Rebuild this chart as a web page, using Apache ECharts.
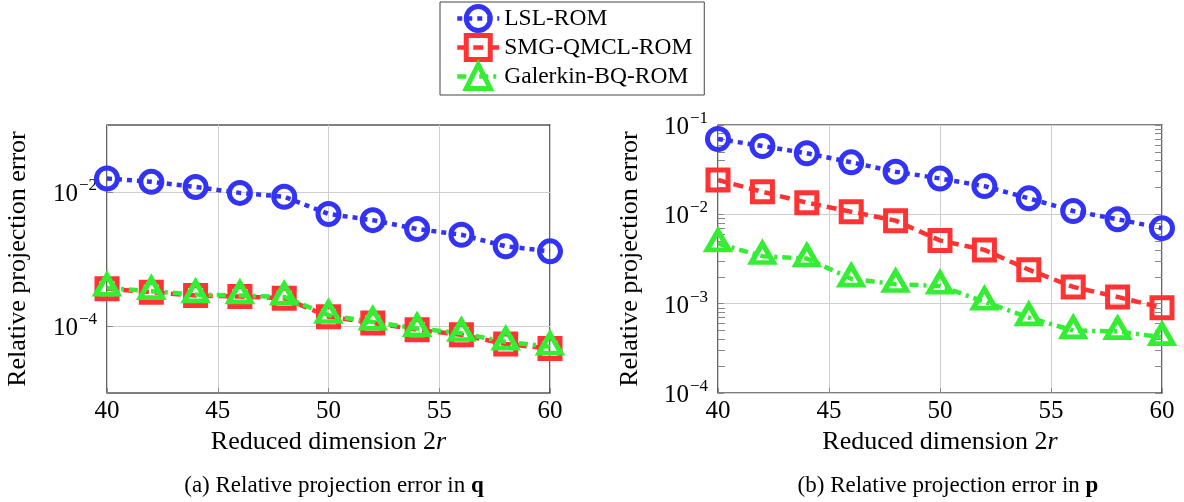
<!DOCTYPE html>
<html><head><meta charset="utf-8">
<script src="https://cdn.jsdelivr.net/npm/echarts@6/dist/echarts.min.js"></script>
<style>html,body{margin:0;padding:0;background:#fff}#c{width:1184px;height:502px}</style>
</head><body><div id="c"></div>
<script>
// ---------- data ----------
const dims = [40, 42, 44, 46, 48, 50, 52, 54, 56, 58, 60];
const seriesNames = ['LSL-ROM', 'SMG-QMCL-ROM', 'Galerkin-BQ-ROM'];
// (a) error in q
const qLSL = [0.0159, 0.0142, 0.0119, 0.0097, 0.0085, 0.0047, 0.0038, 0.0028, 0.0023, 0.00155, 0.0013];
const qSMG = [3.6e-4, 3.2e-4, 2.85e-4, 2.75e-4, 2.6e-4, 1.38e-4, 1.11e-4, 8.8e-5, 7.4e-5, 5.4e-5, 4.6e-5];
const qGal = [3.7e-4, 3.3e-4, 2.95e-4, 2.85e-4, 2.72e-4, 1.45e-4, 1.15e-4, 9.2e-5, 7.8e-5, 5.8e-5, 4.9e-5];
// (b) error in p
const pLSL = [0.0697, 0.0582, 0.0482, 0.0382, 0.030, 0.0252, 0.0207, 0.0151, 0.0109, 0.0088, 0.0070];
const pSMG = [0.0242, 0.0179, 0.0135, 0.0107, 0.0085, 0.0051, 0.0040, 0.0024, 0.00154, 0.00119, 0.0009];
const pGal = [0.0047, 0.0034, 0.0032, 0.0019, 0.00165, 0.00158, 0.00105, 0.0007, 0.0005, 0.00049, 0.00042];
// ticks
const xTicks = [40, 45, 50, 55, 60];
const yTicksQ = [1e-4, 1e-2];
const yTicksP = [1e-4, 1e-3, 1e-2, 1e-1];
const yMinorP = [];
[1e-4, 1e-3, 1e-2].forEach(d => { for (let k = 2; k <= 9; k++) yMinorP.push(+(k * d).toPrecision(3)); });
const xTitle = 'Reduced dimension 2{i|r}';
const yTitle = 'Relative projection error';
const captionA = '(a) Relative projection error in {b|q}';
const captionB = '(b) Relative projection error in {b|p}';

// ---------- style ----------
const FONT = 'Liberation Serif';
const BLUE = '#3333f6', RED = '#ff3333', GREEN = '#33ee33';

function powLabel(v) {
  const e = Math.round(Math.log10(v));
  return '{b|10}{s|\u2212' + (-e) + '}';
}
const labelRich = {
  b: { fontSize: 25, fontFamily: FONT, color: '#000', lineHeight: 30, verticalAlign: 'bottom' },
  s: { fontSize: 17, fontFamily: FONT, color: '#000', lineHeight: 30, verticalAlign: 'top', padding: [0, 0, 0, 1] }
};

function xAxisCfg(gi) {
  return {
    type: 'value', gridIndex: gi, min: 40, max: 60, interval: 5,
    name: xTitle, nameLocation: 'middle', nameGap: 34,
    nameTextStyle: { fontFamily: FONT, fontSize: 26, color: '#000', rich: { i: { fontStyle: 'italic', fontFamily: FONT, fontSize: 26 } } },
    axisLine: { show: false },
    axisTick: { show: true, inside: true, length: 5, lineStyle: { color: '#888' } },
    axisLabel: { fontFamily: FONT, fontSize: 25, color: '#000', margin: 6 },
    splitLine: { show: true, lineStyle: { color: '#cfcfcf', width: 1 } }
  };
}
function yAxisMain(gi, min, max, ticks, gap) {
  return {
    type: 'log', logBase: 10, gridIndex: gi, min: min, max: max,
    name: yTitle, nameLocation: 'middle', nameGap: gap, nameRotate: 90,
    nameTextStyle: { fontFamily: FONT, fontSize: 26, color: '#000' },
    axisLine: { show: false },
    axisTick: { show: true, inside: true, length: 6, customValues: ticks, lineStyle: { color: '#888' } },
    axisLabel: { customValues: ticks, formatter: powLabel, rich: labelRich, margin: 10 },
    splitLine: { show: true, lineStyle: { color: '#cfcfcf', width: 1 } },
    minorTick: { show: false }
  };
}
function yAxisMinor(gi, pos, min, max, ticks) {
  return {
    type: 'log', logBase: 10, gridIndex: gi, position: pos, min: min, max: max,
    axisLine: { show: false },
    axisTick: { show: true, inside: true, length: 7, customValues: ticks, lineStyle: { color: '#888' } },
    axisLabel: { show: false },
    splitLine: { show: false }
  };
}

function mk(name, vals, gi, yi, color, dash, symbol, size, bw, offset) {
  return {
    type: 'line', name: name, xAxisIndex: gi, yAxisIndex: yi,
    data: dims.map((d, i) => [d, vals[i]]),
    symbol: symbol, symbolSize: size, symbolOffset: offset || [0, 0],
    showSymbol: true, clip: false, animation: false,
    lineStyle: { color: color, width: 4.5, type: dash, cap: 'butt' },
    itemStyle: { color: 'rgba(255,255,255,0)', borderColor: color, borderWidth: bw },
    emphasis: { disabled: true }
  };
}
const dotted = [5, 5], dashed = [10, 6], dashdot = [9, 5, 3, 5];
const triSize = [22, 19], triOff = [0, -3.2];

const option = {
  animation: false,
  backgroundColor: '#fff',
  legend: {
    orient: 'vertical', left: 440, top: 2,
    data: seriesNames,
    itemWidth: 42, itemHeight: 30, itemGap: 0,
    padding: [2, 12, 4, 15],
    borderColor: '#444', borderWidth: 1,
    textStyle: { fontFamily: FONT, fontSize: 23.5, color: '#000' },
    lineStyle: { width: 4.5 },
    itemStyle: { borderWidth: 5 },
    selectedMode: false
  },
  grid: [
    { left: 107, top: 125, width: 443, height: 268, show: true, borderColor: '#000', borderWidth: 1.2, backgroundColor: 'transparent' },
    { left: 718, top: 125, width: 444, height: 268, show: true, borderColor: '#000', borderWidth: 1.2, backgroundColor: 'transparent' }
  ],
  xAxis: [xAxisCfg(0), xAxisCfg(1)],
  yAxis: [
    yAxisMain(0, 1e-5, 1e-1, yTicksQ, 76),
    yAxisMain(1, 1e-4, 1e-1, yTicksP, 75),
    yAxisMinor(1, 'left', 1e-4, 1e-1, yMinorP),
    yAxisMinor(1, 'right', 1e-4, 1e-1, yMinorP.concat(yTicksP))
  ],
  series: [
    mk(seriesNames[0], qLSL, 0, 0, BLUE, dotted, 'circle', 21, 5),
    mk(seriesNames[1], qSMG, 0, 0, RED, dashed, 'rect', 20, 5),
    mk(seriesNames[2], qGal, 0, 0, GREEN, dashdot, 'triangle', triSize, 5, triOff),
    mk(seriesNames[0], pLSL, 1, 1, BLUE, dotted, 'circle', 21, 5),
    mk(seriesNames[1], pSMG, 1, 1, RED, dashed, 'rect', 20, 5),
    mk(seriesNames[2], pGal, 1, 1, GREEN, dashdot, 'triangle', triSize, 5, triOff)
  ],
  graphic: [
    { type: 'text', x: 334, y: 486, style: { text: captionA, align: 'center', verticalAlign: 'middle', fontFamily: FONT, fontSize: 23, fill: '#000', rich: { b: { fontWeight: 'bold', fontFamily: FONT, fontSize: 23 } } } },
    { type: 'text', x: 948, y: 486, style: { text: captionB, align: 'center', verticalAlign: 'middle', fontFamily: FONT, fontSize: 23, fill: '#000', rich: { b: { fontWeight: 'bold', fontFamily: FONT, fontSize: 23 } } } }
  ]
};
const chart = echarts.init(document.getElementById('c'), null, { renderer: 'canvas' });
chart.setOption(option);
</script>
</body></html>
